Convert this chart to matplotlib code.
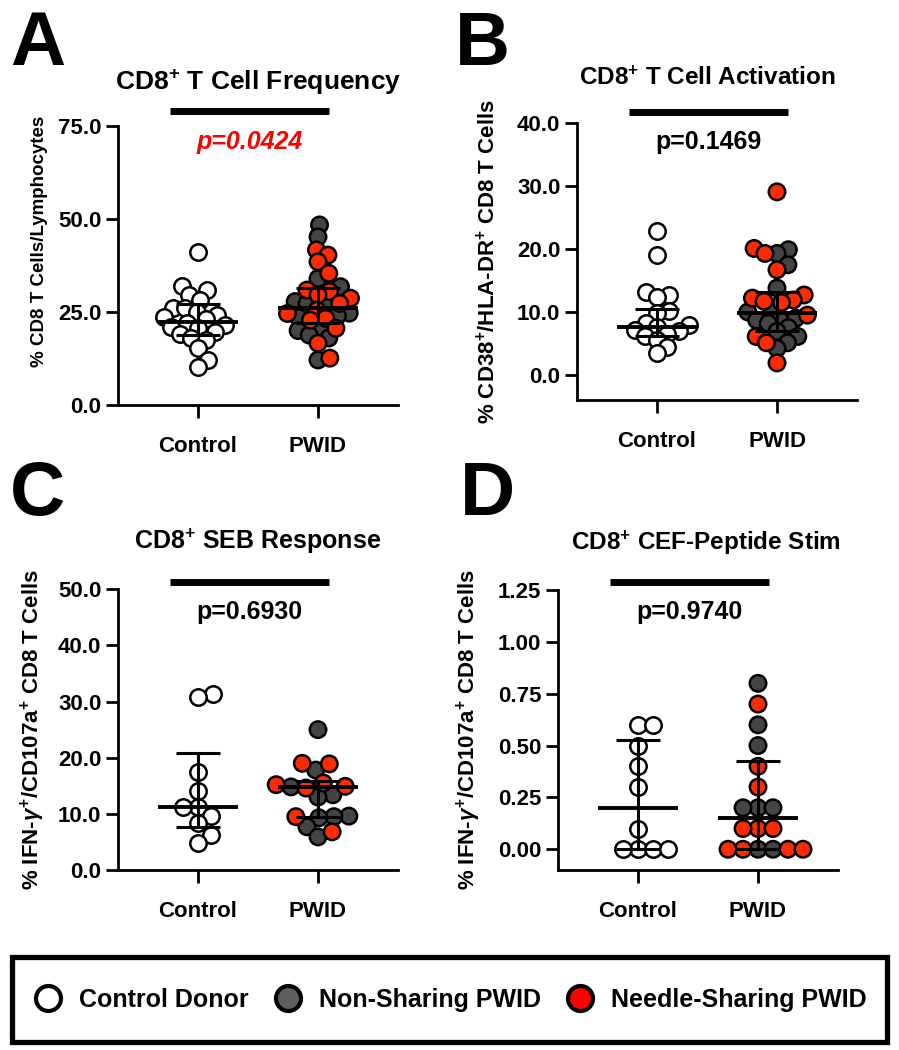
import numpy as np
import matplotlib
matplotlib.use("Agg")
import matplotlib.pyplot as plt
import matplotlib.transforms as mtransforms
from matplotlib.lines import Line2D
from matplotlib.patches import Rectangle
from matplotlib.ticker import FormatStrFormatter

plt.rcParams['font.family'] = ['Liberation Sans', 'DejaVu Sans']
plt.rcParams['font.weight'] = 'bold'
plt.rcParams['mathtext.fontset'] = 'custom'
plt.rcParams['mathtext.rm'] = 'Liberation Sans:bold'
plt.rcParams['mathtext.bf'] = 'Liberation Sans:bold'
plt.rcParams['mathtext.it'] = 'Liberation Sans:bold:italic'

# ---- data ----
groups = ['Control', 'PWID']

a_control = [41.2, 32.1, 30.9, 29.6, 28.2, 26.2, 26.0, 25.1, 24.2, 23.7, 23.0,
             22.0, 21.5, 21.0, 20.6, 19.7, 19.0, 17.9, 17.5, 15.2, 12.1, 10.3]
a_nonshare = [48.4, 45.2, 34.0, 31.8, 27.8, 27.3, 26.9, 24.7, 24.0, 23.5,
              20.6, 20.0, 18.8, 18.0, 12.1]
a_share = [41.7, 40.3, 38.5, 35.4, 30.9, 30.5, 29.6, 28.7, 27.3, 25.5, 24.6,
           23.3, 22.8, 20.6, 16.6, 12.6]
a_median = [22.2, 26.0]
a_q1 = [18.8, 22.0]
a_q3 = [27.2, 31.4]

b_control = [22.9, 19.1, 13.2, 12.7, 12.4, 10.1, 9.8, 8.2, 7.9, 7.6, 7.2, 6.9,
             6.5, 6.1, 5.5, 4.5, 3.4]
b_nonshare = [19.9, 19.3, 17.5, 13.8, 10.3, 10.0, 9.0, 8.8, 8.7, 8.2, 7.5,
              6.9, 6.1, 5.1, 4.2]
b_share = [29.1, 20.1, 19.3, 16.7, 12.7, 12.2, 11.9, 11.7, 11.5, 9.5, 6.1,
           5.1, 1.9]
b_median = [7.6, 9.8]
b_q1 = [6.1, 6.9]
b_q3 = [10.5, 13.2]

c_control = [31.3, 30.9, 17.5, 14.0, 11.2, 11.2, 9.6, 8.3, 6.2, 4.8]
c_nonshare = [25.0, 17.8, 14.8, 13.4, 13.0, 9.6, 9.5, 9.3, 7.7, 5.9]
c_share = [19.0, 18.9, 15.5, 15.2, 14.9, 14.6, 9.5, 6.8]
c_median = [11.2, 14.7]
c_q1 = [7.7, 9.5]
c_q3 = [20.8, 15.8]

d_control = [0.6, 0.6, 0.5, 0.4, 0.3, 0.1, 0.0, 0.0, 0.0, 0.0]
d_nonshare = [0.8, 0.6, 0.5, 0.2, 0.2, 0.2, 0.0, 0.0]
d_share = [0.7, 0.4, 0.3, 0.1, 0.1, 0.1, 0.0, 0.0, 0.0, 0.0]
d_median = [0.20, 0.15]
d_q1 = [0.0, 0.0]
d_q3 = [0.525, 0.425]

p_values = ['p=0.0424', 'p=0.1469', 'p=0.6930', 'p=0.9740']

WHITE, GRAY, RED = '#ffffff', '#444444', '#ff2a00'

W, H = 899, 1050
fig = plt.figure(figsize=(W / 100, H / 100), dpi=100)


def add_axes(l, r, t, b):
    return fig.add_axes([l / W, 1 - b / H, (r - l) / W, (b - t) / H])


def swarm(ax, xc, vals, d):
    # simple beeswarm in pixel space
    vals = np.asarray(vals, float)
    pts = ax.transData.transform(np.column_stack([np.full(len(vals), xc), vals]))
    out = np.zeros(len(vals))
    placed = []
    for i in np.argsort(vals, kind='stable'):
        y = pts[i, 1]
        cands = [0.0]
        for px, py in placed:
            dy = abs(y - py)
            if dy < d:
                dx = np.sqrt(d * d - dy * dy)
                cands += [px + dx, px - dx]
        cands.sort(key=abs)
        for c in cands:
            if all((c - px) ** 2 + (y - py) ** 2 >= d * d - 1e-6 for px, py in placed):
                break
        placed.append((c, y))
        out[i] = c
    back = ax.transData.inverted().transform(np.column_stack([pts[:, 0] + out, pts[:, 1]]))
    return back[:, 0]


def draw_panel(ax, control, nonshare, share, med, q1, q3, ylim, ticks, fmt,
               ylabel, ylabel_size, label_xy, title, title_size, title_xy,
               ptext, pcolor, pstyle, bar_y, p_y, d):
    ax.set_xlim(-2 / 3, 5 / 3)
    ax.set_ylim(*ylim)
    ax.set_yticks(ticks)
    ax.yaxis.set_major_formatter(FormatStrFormatter(fmt))
    ax.set_xticks([0, 1])
    ax.set_xticklabels(groups)
    for s in ['top', 'right']:
        ax.spines[s].set_visible(False)
    for s in ['left', 'bottom']:
        ax.spines[s].set_linewidth(2)
    ax.tick_params(axis='both', length=9, width=2, labelsize=16, pad=3)
    ax.tick_params(axis='x', pad=13)

    xs = swarm(ax, 0, control, d)
    ax.scatter(xs, control, s=140, facecolor=WHITE, edgecolor='black', lw=1.8,
               zorder=3, clip_on=False)
    pw = list(nonshare) + list(share)
    cols = [GRAY] * len(nonshare) + [RED] * len(share)
    xs = swarm(ax, 1, pw, d)
    ax.scatter(xs, pw, s=140, c=cols, edgecolor='black', lw=1.8, zorder=3, clip_on=False)

    for i in range(2):
        ax.hlines(med[i], i - 0.33, i + 0.33, color='black', lw=2.8, zorder=4)
        ax.hlines([q1[i], q3[i]], i - 0.18, i + 0.18, color='black', lw=2.2, zorder=4)
        ax.vlines(i, q1[i], q3[i], color='black', lw=2.2, zorder=4)

    trans = mtransforms.blended_transform_factory(ax.transData, ax.transAxes)
    ax.plot([-0.23, 1.09], [bar_y, bar_y], transform=trans, color='black', lw=5,
            solid_capstyle='butt', clip_on=False)
    ax.text(0.43, p_y, ptext, transform=trans, ha='center', va='center',
            fontsize=18, color=pcolor, style=pstyle, fontweight='bold')
    ax.text(*title_xy, title, transform=ax.transAxes, ha='center', va='center',
            fontsize=title_size, fontweight='bold')
    ax.set_ylabel(ylabel, fontsize=ylabel_size, fontweight='bold')
    ax.yaxis.set_label_coords(*label_xy)


ax_a = add_axes(118, 398, 126, 405)
draw_panel(ax_a, a_control, a_nonshare, a_share, a_median, a_q1, a_q3,
           (0, 75), [0, 25, 50, 75], '%.1f', '% CD8 T Cells/Lymphocytes', 13.5,
           (-0.25, 0.585), r'CD8$^{+}$ T Cell Frequency', 19, (0.5, 1.158),
           p_values[0], '#ff0000', 'italic', 1.054, 0.943, 12)

ax_b = add_axes(577, 857, 123.3, 400)
draw_panel(ax_b, b_control, b_nonshare, b_share, b_median, b_q1, b_q3,
           (-4, 40), [0, 10, 20, 30, 40], '%.1f',
           r'% CD38$^{+}$/HLA-DR$^{+}$ CD8 T Cells', 16, (-0.275, 0.5),
           r'CD8$^{+}$ T Cell Activation', 17.5, (0.465, 1.162),
           p_values[1], 'black', 'normal', 1.04, 0.933, 12)

ax_c = add_axes(118, 398, 589.3, 870)
draw_panel(ax_c, c_control, c_nonshare, c_share, c_median, c_q1, c_q3,
           (0, 50), [0, 10, 20, 30, 40, 50], '%.1f',
           r'% IFN-$\gamma^{+}$/CD107a$^{+}$ CD8 T Cells', 16, (-0.254, 0.5),
           r'CD8$^{+}$ SEB Response', 18, (0.5, 1.172),
           p_values[2], 'black', 'normal', 1.027, 0.92, 15)

ax_d = add_axes(558, 838, 590, 870)
draw_panel(ax_d, d_control, d_nonshare, d_share, d_median, d_q1, d_q3,
           (-0.1, 1.25), [0, 0.25, 0.5, 0.75, 1.0, 1.25], '%.2f',
           r'% IFN-$\gamma^{+}$/CD107a$^{+}$ CD8 T Cells', 16, (-0.268, 0.5),
           r'CD8$^{+}$ CEF-Peptide Stim', 17.5, (0.53, 1.168),
           p_values[3], 'black', 'normal', 1.03, 0.922, 15)

# panel letters
for letter, x, y in [('A', 10, 65), ('B', 455, 65), ('C', 10, 515), ('D', 460, 515)]:
    fig.text(x / W, 1 - y / H, letter, fontsize=55, fontweight='bold', va='baseline')

# legend
fig.add_artist(Rectangle((12 / W, 1 - 1042 / H), 875 / W, 85 / H, transform=fig.transFigure,
                         fill=False, lw=3.8, ec='black'))
handles = [Line2D([], [], marker='o', ls='', markersize=18, markeredgewidth=3,
                  markerfacecolor=c, markeredgecolor='black')
           for c in ['#ffffff', '#5f5f5f', '#ff0000']]
fig.legend(handles, ['Control Donor', 'Non-Sharing PWID', 'Needle-Sharing PWID'],
           loc='center', bbox_to_anchor=(451 / W, 1 - 1000 / H), ncol=3, frameon=False,
           prop={'size': 18, 'weight': 'bold'}, handlelength=1.0, handletextpad=0.75,
           columnspacing=1.07)

fig.savefig('out.png', dpi=100)
